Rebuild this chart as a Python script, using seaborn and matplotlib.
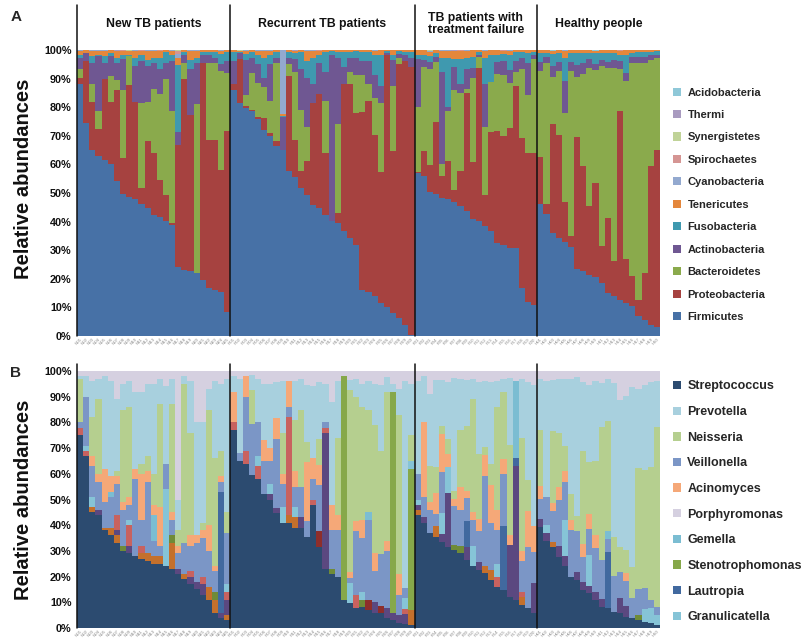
import numpy as np
import pandas as pd
import matplotlib
matplotlib.use("Agg")
import matplotlib.pyplot as plt
import matplotlib.transforms as mtransforms
from matplotlib.patches import Patch
import seaborn as sns

# ---------------- cohorts ----------------
cohort_titles = ["New TB patients", "Recurrent TB patients",
                 "TB patients with\ntreatment failure", "Healthy people"]
cohort_sizes = [25, 30, 20, 20]
cohort_codes = ["N", "R", "F", "H"]

# ---------------- phylum level (% of reads per sample) ----------------
firmicutes = [87.8, 74.4, 65.0, 62.7, 61.5, 60.1, 54.0, 49.6, 48.7, 47.6, 46.2, 44.6, 42.3, 41.4, 40.0,
              38.8, 23.9, 23.0, 22.5, 22.0, 19.6, 16.7, 16.0, 15.2, 8.5,
              86.0, 81.4, 79.6, 78.4, 75.8, 72.0, 69.7, 66.2, 65.0, 57.5, 55.7, 51.6, 49.3, 45.8, 44.6,
              42.3, 40.0, 39.4, 36.5, 34.1, 31.8, 16.1, 15.5, 13.8, 11.4, 10.3, 7.9, 6.2, 3.8, 0.5,
              56.9, 55.7, 50.5, 49.3, 48.1, 47.6, 47.0, 45.2, 43.5, 40.6, 40.0, 38.2, 36.5, 32.4, 31.8,
              30.7, 30.7, 16.7, 12.0, 10.8,
              45.8, 42.3, 35.9, 34.1, 32.4, 30.7, 23.1, 22.5, 21.3, 20.7, 18.4, 14.9, 13.8, 12.6, 11.4,
              10.3, 6.8, 5.6, 3.8, 3.3]
proteobacteria = [2.2, 21.6, 16.4, 9.6, 28.2, 21.3, 32.0, 12.5, 39.1, 33.8, 5.4, 23.4, 21.6, 13.1, 9.3,
                  0.6, 42.3, 66.5, 54.5, 0.0, 75.7, 51.8, 52.5, 42.8, 62.9,
                  2.0, 15.6, 0.9, 0.6, 0.7, 4.0, 1.3, 1.8, 0.0, 33.2, 12.8, 5.9, 11.7, 35.6, 39.7,
                  21.7, 0.0, 3.5, 51.5, 53.9, 46.2, 61.9, 66.5, 56.2, 45.6, 87.7, 56.5, 88.8, 92.2, 93.5,
                  0.1, 8.8, 9.3, 25.1, 7.6, 13.4, 4.0, 12.3, 41.3, 19.8, 53.6, 11.1, 34.4, 39.0, 37.9,
                  41.9, 56.5, 52.4, 51.9, 53.1,
                  16.3, 3.5, 37.9, 35.6, 14.0, 4.0, 46.0, 36.7, 23.9, 32.7, 12.8, 26.2, 12.2, 65.8, 15.2,
                  10.7, 5.8, 16.3, 55.4, 61.7]
bacteroidetes = [3.0, 0, 6.4, 6.1, 0, 9.3, 3.5, 23.9, 9.9, 0, 29.8, 13.4, 22.1, 29.8, 40.2,
                 39.0, 0, 5.5, 0, 59.0, 0, 26.8, 26.8, 34.4, 20.4,
                 0, 0, 3.8, 12.8, 11.8, 11.0, 11.0, 27.3, 0, 4.3, 23.9, 21.5, 12.0, 0, 0,
                 18.0, 0, 31.1, 0, 4.0, 13.0, 13.0, 6.0, 13.0, 24.0, 0, 22.6, 2.0, 0, 0,
                 22.6, 29.1, 33.8, 20.9, 4.3, 17.4, 35.0, 27.3, 1.2, 29.1, 3.9, 23.4, 17.4, 19.9, 21.3,
                 15.7, 4.8, 23.9, 20.1, 32.6,
                 29.9, 49.2, 16.2, 22.3, 30.6, 57.3, 20.9, 31.8, 47.8, 39.6, 62.8, 51.9, 67.0, 14.6, 61.4,
                 74.0, 82.4, 73.1, 36.8, 32.0]
actinobacteria = [4.0, 2.8, 7.5, 19.3, 5.6, 7.0, 5.8, 10.5, 0, 12.6, 14.6, 12.6, 9.0, 8.7, 5.5,
                  17.6, 4.7, 3.0, 16.0, 14.0, 2.7, 2.7, 1.7, 2.6, 4.2,
                  8.0, 2.0, 12.2, 5.2, 6.7, 3.0, 13.0, 1.7, 11.7, 2.0, 4.6, 14.0, 17.0, 6.6, 11.0,
                  10.0, 58.0, 23.0, 6.0, 5.0, 6.0, 5.0, 8.0, 8.0, 6.0, 1.0, 9.0, 1.5, 2.0, 3.0,
                  16.9, 2.4, 2.4, 1.7, 32.0, 1.6, 8.0, 3.2, 7.0, 3.5, 0.5, 15.3, 0, 4.0, 5.0,
                  4.7, 4.0, 4.0, 11.0, 1.5,
                  3, 2, 4, 3, 11, 3, 4, 4, 3, 2, 2, 2, 3, 3, 3,
                  2, 2, 2, 2, 1]
fusobacteria = [1.0, 0, 2.4, 0.3, 2.4, 0.8, 1.7, 1.5, 0.3, 3.0, 2.0, 2.0, 2.0, 4.0, 4.0,
                2.0, 23.3, 1.0, 3.0, 2.0, 1.0, 1.0, 2.0, 3.5, 3.0,
                3.0, 0.5, 2.0, 2.0, 3.0, 7.0, 3.0, 2.0, 0.3, 2.0, 2.0, 6.0, 6.0, 9.0, 2.7,
                7.0, 1.5, 2.0, 5.0, 2.0, 2.5, 3.0, 3.0, 7.0, 11.0, 0.5, 2.0, 1.0, 1.0, 2.0,
                1.5, 2.0, 2.0, 1.5, 5.0, 17.0, 3.0, 8.5, 4.0, 4.0, 1.0, 9.0, 9.7, 2.7, 2.5,
                5.0, 3.0, 2.0, 3.5, 1.0,
                3, 1.5, 4, 3, 8, 3, 4, 3.5, 2, 4, 2.5, 3, 2.5, 2, 6,
                1.5, 2, 2, 1, 1.5]
tenericutes = [1.6, 1.0, 1.8, 1.5, 1.8, 1.2, 2.5, 1.6, 1.5, 2.5, 1.6, 3.4, 2.5, 2.6, 0.7,
               1.6, 2.3, 0.7, 3.4, 2.5, 0.7, 0.7, 0.7, 1.1, 0.7,
               0.8, 0.4, 1.2, 0.8, 1.6, 2.6, 1.6, 0.8, 0.6, 0.8, 0.8, 0.8, 3.4, 2.6, 1.6,
               0.8, 0.4, 0.8, 0.8, 0.8, 0.4, 0.8, 0.8, 1.6, 1.6, 0.4, 1.6, 0.4, 0.8, 0.8,
               1.6, 1.6, 1.6, 1.1, 2.4, 2.4, 2.6, 3.0, 2.4, 2.4, 0.8, 2.4, 1.6, 1.6, 1.1,
               1.6, 0.8, 0.8, 1.1, 0.8,
               1.2, 0.9, 1.2, 1.2, 2.4, 1.2, 1.2, 0.9, 1.2, 0.6, 0.9, 1.2, 0.9, 1.2, 1.8,
               0.9, 0.6, 0.6, 0.6, 0.3]
cyanobacteria = [0.2, 0, 0.2, 0.2, 0.2, 0, 0.2, 0, 0.2, 0.2, 0, 0.2, 0.2, 0, 0,
                 0.2, 1.5, 0, 0.2, 0.2, 0, 0, 0, 0.2, 0,
                 0, 0, 0.2, 0, 0.2, 0.2, 0.2, 0, 22.4, 0, 0, 0, 0.3, 0.2, 0,
                 0, 0, 0, 0, 0, 0, 0, 0, 0.2, 0, 0, 0, 0, 0, 0,
                 0, 0, 0.3, 0, 0.3, 0.3, 0.3, 0, 0.3, 0, 0, 0.3, 0, 0, 0,
                 0.3, 0, 0, 0, 0,
                 0, 0, 0, 0, 0.3, 0, 0, 0, 0, 0, 0, 0, 0, 0, 0,
                 0, 0, 0, 0, 0]
spirochaetes = [0, 0, 0, 0, 0, 0, 0, 0.2, 0, 0, 0.2, 0, 0, 0.2, 0,
                0, 1.0, 0, 0, 0, 0, 0, 0, 0, 0,
                0, 0, 0, 0, 0, 0, 0, 0, 0, 0, 0, 0, 0, 0, 0.2,
                0, 0, 0, 0, 0, 0, 0, 0, 0, 0, 0, 0, 0, 0, 0,
                0, 0, 0, 0, 0, 0, 0, 0.3, 0, 0, 0, 0, 0, 0, 0.3,
                0, 0, 0, 0, 0,
                0, 0, 0, 0, 0, 0, 0, 0, 0, 0, 0, 0, 0, 0.5, 0,
                0, 0, 0, 0, 0]
synergistetes = [0, 0, 0, 0, 0, 0, 0, 0, 0.2, 0, 0, 0, 0, 0, 0,
                 0, 0.3, 0, 0, 0, 0, 0, 0, 0, 0,
                 0, 0.2, 0, 0, 0, 0, 0, 0, 0, 0, 0, 0, 0, 0, 0,
                 0, 0, 0, 0, 0, 0, 0, 0, 0, 0, 0, 0, 0, 0, 0,
                 0, 0, 0.3, 0, 0, 0, 0, 0, 0, 0, 0, 0, 0, 0, 0,
                 0, 0, 0, 0, 0,
                 0, 0, 0, 0, 0, 0, 0, 0, 0, 0, 0, 0, 0, 0, 0,
                 0, 0, 0, 0, 0]
thermi = [0, 0, 0, 0, 0, 0, 0.2, 0, 0, 0, 0, 0, 0, 0, 0,
          0, 0, 0, 0, 0, 0, 0, 0, 0, 0,
          0, 0, 0, 0, 0, 0, 0, 0, 0, 0, 0.2, 0, 0, 0, 0,
          0, 0, 0, 0, 0, 0, 0, 0, 0, 0, 0, 0, 0, 0, 0,
          0, 0, 0, 0, 0, 0, 0.2, 0, 0, 0, 0, 0, 0, 0, 0,
          0, 0, 0, 0, 0,
          0, 0, 0, 0, 0, 0, 0, 0, 0, 0, 0, 0, 0, 0, 0,
          0, 0, 0, 0, 0]
acidobacteria = [0, 0, 0, 0, 0, 0, 0, 0, 0, 0, 0, 0, 0, 0, 0,
                 0, 0, 0, 0, 0, 0, 0, 0, 0, 0,
                 0, 0, 0, 0, 0, 0, 0, 0, 0, 0, 0, 0, 0, 0, 0,
                 0, 0, 0, 0, 0, 0, 0, 0, 0, 0, 0, 0, 0, 0, 0,
                 0, 0, 0, 0, 0, 0, 0, 0, 0, 0, 0, 0, 0, 0, 0,
                 0, 0, 0, 0, 0,
                 0, 0, 0.3, 0, 0, 0, 0, 0, 0, 0.3, 0, 0, 0, 0, 0,
                 0, 0, 0, 0, 0]

# ---------------- genus level (% of reads per sample) ----------------
streptococcus = [75, 67, 45, 44, 38, 36, 33, 30, 29, 28, 27, 26, 25, 25, 24,
                 23, 21, 19, 17, 15, 13, 11, 6, 4, 3,
                 77, 65, 64, 59.5, 58, 52, 50, 44.6, 41, 41, 39, 39, 35.5, 48, 31.6,
                 23, 21, 20, 11, 9.6, 7.7, 8, 7, 6, 5.7, 3.8, 3, 2, 1.5, 1,
                 44, 41, 37, 35.5, 33.6, 31.6, 30.3, 29, 26.5, 24, 22.6, 21.3, 18.7, 16, 14.8,
                 12.2, 10.9, 9, 7.7, 5.7,
                 39.4, 34, 31.6, 27.8, 24, 20, 18.7, 14.8, 13.5, 11, 8.3, 7.7, 6.4, 5.7, 4.4,
                 3.8, 3.1, 2.5, 1.8, 1.2]
prevotella = [1, 8, 14, 8, 36, 37, 28, 10, 10, 30, 28, 28, 35, 10, 30,
              10, 12, 3, 20, 44, 39, 8, 30, 26, 52,
              6, 29, 0, 6, 17, 22, 25, 14, 20, 0, 15, 12, 22, 28, 22,
              15, 40, 22, 0, 4, 7, 9, 11, 16, 26, 6, 3, 10, 80.5, 20,
              36, 18, 28, 34, 18, 22, 44, 20, 18, 8, 28, 26, 32, 10, 5,
              26, 0, 23, 38, 55,
              20, 45, 20, 21, 26, 45, 54, 27, 30, 31, 17, 16, 60, 57, 60,
              70, 31, 33, 33, 18]
neisseria = [17, 0, 15, 29, 0, 0, 2, 36, 35, 0, 4, 6, 12, 40, 0,
             42, 6, 62, 40, 0, 3, 45, 42, 10, 8,
             0, 0, 0, 13, 0, 0, 0, 0, 16, 0, 20, 30, 8, 0, 10,
             0, 0, 30, 0, 71, 48, 44, 40, 50, 40, 58, 0, 62, 0, 10,
             0, 0, 14, 10, 3, 6, 3, 22, 25, 44, 25, 3, 8, 40, 26,
             35, 0, 44, 12, 0,
             22, 0, 28, 21, 10, 10, 6, 36, 20, 29, 52, 43, 15, 10, 9,
             12, 47, 46, 52, 70]
veillonella = [2, 19, 12, 11, 10, 12, 12, 14, 6, 30, 10, 28, 6, 4, 10,
               6, 6, 12, 10, 15, 15, 14, 8, 4, 20,
               0, 3, 21, 20, 13, 13, 9, 27, 9, 4, 8, 12, 6, 8, 18,
               2, 15, 18, 0, 2, 25, 21, 31, 12, 20, 22, 0, 8, 4, 0,
               10, 8, 9, 5, 16, 0, 15, 14, 9, 10, 12, 35, 18, 13, 20,
               0, 0, 12, 24, 12,
               8, 11, 12, 18, 15, 18, 16, 10, 10, 17, 15, 5, 14, 10, 10,
               8, 10, 8, 3, 3]
acinomyces = [0, 0, 4, 3, 13, 6, 3, 3, 3, 4, 18, 4, 4, 15, 0,
              3, 3, 0, 4, 3, 3, 10, 2, 2, 0,
              12, 0, 8, 0, 0, 8, 5, 8, 4, 10, 6, 0, 23, 8, 8,
              0, 10, 6, 0, 2, 4, 7, 0, 7, 0, 4, 0, 8, 0, 0,
              0, 29, 3, 8, 15, 5, 3, 9, 3, 3, 5, 8, 15, 8, 6,
              4, 0, 4, 14, 10,
              5, 0, 3, 5, 4, 4, 0, 5, 6, 5, 0, 0, 0, 0, 3,
              0, 0, 0, 0, 0]
porphyromonas = [2, 2, 4, 3, 2, 4, 11, 5, 4, 8, 8, 5, 5, 3, 6,
                 3, 50, 2, 4, 20, 20, 7, 4, 5, 3,
                 2, 3, 2, 1.5, 3, 5, 5, 4.4, 4, 4, 4, 3, 5.5, 6, 4.4,
                 5, 12, 4, 2, 3.4, 3.3, 5, 4, 5, 5.3, 2.2, 5, 7, 4, 5,
                 4, 2, 9, 3.5, 3.4, 4.4, 2.7, 3, 3.5, 3, 4.4, 3.7, 4.3, 4, 3.2,
                 2.8, 4, 3, 4.3, 5.3,
                 3, 4, 3.4, 3.2, 3, 3, 2.3, 4.2, 5.5, 4, 4.7, 3.3, 4.6, 11.3, 9.6,
                 6.2, 6.9, 5.5, 4.2, 3.8]
gemella = [0, 0, 0, 0, 0, 2, 0, 0, 0, 0, 0, 0, 10, 0, 0,
           0, 0, 0, 0, 0, 0, 0, 0, 0, 0,
           0, 0, 0, 0, 0, 0, 0, 0, 0, 0, 0, 0, 0, 0, 0,
           0, 0, 0, 0, 0, 0, 0, 3, 0, 0, 0, 0, 0, 0, 0,
           0, 0, 0, 0, 0, 0, 0, 0, 0, 0, 0, 0, 0, 0, 0,
           0, 30, 0, 0, 0,
           0, 0, 0, 0, 0, 0, 0, 0, 0, 0, 0, 3, 0, 0, 0,
           0, 0, 0, 0, 0]
stenotrophomonas = [0, 0, 0, 0, 0, 0, 0, 0, 0, 0, 0, 0, 0, 0, 0,
                    0, 0, 0, 0, 0, 0, 0, 0, 0, 0,
                    0, 0, 0, 0, 0, 0, 0, 0, 0, 0, 0, 0, 0, 0, 0,
                    0, 0, 0, 87, 0, 0, 0, 0, 0, 0, 0, 86, 0, 0, 55,
                    0, 0, 0, 0, 0, 0, 0, 0, 0, 0, 0, 0, 0, 0, 0,
                    0, 0, 0, 0, 0,
                    0, 0, 0, 0, 0, 0, 0, 0, 0, 0, 0, 0, 0, 0, 0,
                    0, 0, 0, 0, 0]
lautropia = [0, 0, 0, 0, 0, 0, 0, 0, 0, 0, 0, 0, 0, 0, 0,
             0, 0, 0, 0, 0, 0, 0, 0, 47, 0,
             0, 0, 0, 0, 0, 0, 0, 0, 0, 0, 0, 0, 0, 0, 0,
             0, 0, 0, 0, 0, 0, 0, 0, 0, 0, 0, 0, 0, 0, 0,
             0, 0, 0, 0, 0, 0, 0, 0, 10, 0, 0, 0, 0, 0, 25,
             0, 3, 0, 0, 0,
             0, 0, 0, 0, 0, 0, 0, 0, 0, 0, 0, 22, 0, 0, 0,
             0, 0, 0, 0, 0]
granulicatella = [0, 2, 4, 0, 0, 0, 0, 0, 2, 0, 0, 0, 0, 0, 30,
                  0, 0, 0, 0, 0, 0, 0, 0, 0, 3,
                  0, 0, 0, 0, 4, 0, 4, 0, 6, 0, 4, 0, 0, 0, 0,
                  0, 0, 0, 0, 8, 0, 3, 0, 0, 0, 0, 0, 0, 4, 3,
                  2, 0, 0, 0, 8, 10, 0, 0, 0, 8, 0, 0, 0, 5, 0,
                  0, 0, 0, 0, 0,
                  0, 3, 0, 0, 14, 0, 0, 0, 12, 0, 0, 0, 0, 0, 0,
                  0, 0, 5, 6, 4]
# low-abundance genera outside the top ten
other_1 = [0, 0, 2, 0, 1, 3, 3, 0, 0, 0, 2, 3, 3, 3, 0,
           10, 0, 2, 0, 0, 0, 5, 5, 0, 2,
           0, 0, 0, 0, 0, 0, 0, 0, 0, 3, 4, 0, 0, 0, 0,
           0, 0, 0, 0, 0, 0, 0, 0, 0, 0, 0, 0, 0, 0, 6,
           2, 0, 0, 4, 0, 0, 0, 0, 0, 0, 0, 3, 4, 0, 0,
           0, 0, 3, 0, 0,
           0, 0, 2, 0, 0, 0, 0, 0, 0, 0, 0, 0, 0, 0, 0,
           0, 0, 0, 0, 0]
other_2 = [0, 0, 0, 2, 0, 0, 2, 0, 3, 0, 0, 0, 0, 0, 0,
           0, 2, 0, 3, 3, 4, 0, 0, 2, 6,
           0, 0, 0, 0, 0, 0, 2, 2, 0, 0, 0, 4, 0, 0, 0,
           53, 0, 0, 0, 0, 0, 0, 0, 4, 0, 4, 3, 3, 4, 0,
           2, 2, 0, 0, 3, 21, 0, 0, 5, 0, 3, 0, 0, 0, 0,
           20, 52, 0, 0, 12,
           3, 3, 0, 4, 4, 0, 3, 3, 3, 3, 3, 0, 0, 6, 4,
           0, 0, 0, 0, 0]
other_3 = [3, 2, 0, 0, 0, 0, 6, 0, 8, 0, 3, 0, 0, 0, 0,
           0, 0, 0, 2, 0, 3, 0, 0, 0, 3,
           3, 0, 5, 0, 5, 0, 0, 0, 0, 38, 0, 0, 0, 2, 0,
           2, 0, 0, 0, 0, 5, 0, 0, 0, 0, 0, 0, 0, 2, 0,
           0, 0, 0, 0, 0, 0, 0, 0, 0, 0, 0, 0, 0, 4, 0,
           0, 0, 2, 0, 0,
           0, 0, 0, 0, 0, 0, 0, 0, 0, 0, 0, 0, 0, 0, 0,
           0, 0, 0, 0, 0]
other_4 = [0, 0, 0, 0, 0, 0, 0, 2, 0, 0, 0, 0, 0, 0, 0,
           3, 0, 0, 0, 0, 0, 0, 3, 0, 0,
           0, 0, 0, 0, 0, 0, 0, 0, 0, 0, 0, 0, 0, 0, 0,
           0, 2, 0, 0, 0, 0, 3, 0, 0, 0, 0, 0, 0, 0, 0,
           0, 0, 0, 0, 0, 0, 2, 3, 0, 0, 0, 0, 0, 0, 0,
           0, 0, 0, 0, 0,
           0, 0, 0, 0, 0, 0, 0, 0, 0, 0, 0, 0, 0, 0, 0,
           0, 2, 0, 0, 0]
other_5 = [0, 0, 0, 0, 0, 0, 0, 0, 0, 0, 0, 0, 0, 0, 0,
           0, 0, 0, 0, 0, 0, 0, 0, 0, 0,
           0, 0, 0, 0, 0, 0, 0, 0, 0, 0, 0, 0, 0, 0, 6,
           0, 0, 0, 0, 0, 0, 0, 4, 0, 3, 0, 0, 0, 0, 0,
           0, 0, 0, 0, 0, 0, 0, 0, 0, 0, 0, 0, 0, 0, 0,
           0, 0, 0, 0, 0,
           0, 0, 0, 0, 0, 0, 0, 0, 0, 0, 0, 0, 0, 0, 0,
           0, 0, 0, 0, 0]

# ---------------- tables, stacking order and colours ----------------
phyla = {
    "Acidobacteria": acidobacteria, "Thermi": thermi, "Synergistetes": synergistetes,
    "Spirochaetes": spirochaetes, "Cyanobacteria": cyanobacteria, "Tenericutes": tenericutes,
    "Fusobacteria": fusobacteria, "Actinobacteria": actinobacteria,
    "Bacteroidetes": bacteroidetes, "Proteobacteria": proteobacteria, "Firmicutes": firmicutes,
}
phylum_colors = {
    "Acidobacteria": "#8FC8D8", "Thermi": "#A99BC0", "Synergistetes": "#C0D398",
    "Spirochaetes": "#D59593", "Cyanobacteria": "#93A9CF", "Tenericutes": "#E4873C",
    "Fusobacteria": "#3F99AF", "Actinobacteria": "#6F5792", "Bacteroidetes": "#8AAA4C",
    "Proteobacteria": "#A64240", "Firmicutes": "#4771A6",
}
phylum_legend = list(phyla.keys())

genera = {
    "Porphyromonas": porphyromonas, "Prevotella": prevotella, "Neisseria": neisseria,
    "Acinomyces": acinomyces, "Gemella": gemella, "Veillonella": veillonella,
    "Granulicatella": granulicatella, "Stenotrophomonas": stenotrophomonas,
    "Lautropia": lautropia, "other_5": other_5, "other_4": other_4, "other_3": other_3,
    "other_2": other_2, "other_1": other_1, "Streptococcus": streptococcus,
}
genus_colors = {
    "Streptococcus": "#2C4B70", "Prevotella": "#A8D0DE", "Neisseria": "#B5CF8F",
    "Veillonella": "#7B96C6", "Acinomyces": "#F5A878", "Porphyromonas": "#D5D0E0",
    "Gemella": "#7BBDD2", "Stenotrophomonas": "#86A84A", "Lautropia": "#41699F",
    "Granulicatella": "#86C4D7", "other_1": "#C4702C", "other_2": "#5B4880",
    "other_3": "#C8625F", "other_4": "#6F8B38", "other_5": "#8E2E2B",
}
genus_legend = ["Streptococcus", "Prevotella", "Neisseria", "Veillonella", "Acinomyces",
                "Porphyromonas", "Gemella", "Stenotrophomonas", "Lautropia", "Granulicatella"]

sample_labels = [f"{code}{i:02d}" for code, n in zip(cohort_codes, cohort_sizes)
                 for i in range(1, n + 1)]
n_samples = len(sample_labels)

# ---------------- style ----------------
sns.set_theme(style="white")
plt.rcParams["font.family"] = ["Liberation Sans", "DejaVu Sans"]

W, H = 804, 642
fig = plt.figure(figsize=(W / 100, H / 100), dpi=100)
fig.patch.set_facecolor("white")

ax_left, ax_right = 77, 660
axA = fig.add_axes([ax_left / W, 1 - 336 / H, (ax_right - ax_left) / W, 286 / H])
axB = fig.add_axes([ax_left / W, 1 - 628 / H, (ax_right - ax_left) / W, 257 / H])


def stacked_composition(ax, table, palette, label_y):
    frame = pd.DataFrame(table)
    frame = frame.div(frame.sum(axis=1), axis=0) * 100
    frame["sample"] = np.arange(len(frame))
    long = frame.melt(id_vars="sample", var_name="taxon", value_name="pct")
    # hue order runs from the top of each column to its base
    sns.histplot(data=long, x="sample", weights="pct", hue="taxon",
                 hue_order=list(table.keys()), palette=palette,
                 multiple="stack", discrete=True, shrink=1, alpha=1,
                 linewidth=0, edgecolor="none", antialiased=False,
                 legend=False, ax=ax)
    ax.set_xlim(-0.5, n_samples - 0.5)
    ax.set_ylim(0, 100)
    ax.set_yticks(range(0, 101, 10))
    ax.set_yticklabels([f"{v}%" for v in range(0, 101, 10)],
                       fontsize=7.8, fontweight="bold", color="#111111")
    ax.set_xticks(range(n_samples))
    ax.set_xticklabels(sample_labels, rotation=45, ha="right",
                       rotation_mode="anchor", fontsize=3.2, color="#8a8a8a")
    ax.tick_params(axis="y", length=0, pad=4)
    ax.tick_params(axis="x", length=0, pad=1)
    ax.set_xlabel("")
    ax.set_ylabel("Relative abundances", fontsize=14.5, fontweight="bold", color="#111111")
    ax.yaxis.set_label_coords(-0.0755, label_y)
    for s in ax.spines.values():
        s.set_visible(False)


stacked_composition(axA, phyla, phylum_colors, 0.55)
stacked_composition(axB, genera, genus_colors, 0.5)

# cohort dividers extend into the header band
bounds = np.cumsum([0] + cohort_sizes) - 0.5
for ax, top in ((axA, (336 - 5) / 286), (axB, (628 - 364) / 257)):
    for b in bounds[:-1]:
        ax.axvline(b, ymin=0, ymax=top, color="#111111", lw=1.1, clip_on=False, zorder=5)

# cohort titles above panel A
trans = mtransforms.blended_transform_factory(axA.transData, axA.transAxes)
for title, lo, hi in zip(cohort_titles, bounds[:-1], bounds[1:]):
    axA.text((lo + hi) / 2, (336 - 24) / 286, title, transform=trans, ha="center",
             va="center", fontsize=8.8, fontweight="bold", color="#111111", linespacing=1.1)

# panel letters
fig.text(16 / W, 1 - 17 / H, "A", fontsize=11, fontweight="bold", ha="center", va="center")
fig.text(16 / W, 1 - 373 / H, "B", fontsize=11, fontweight="bold", ha="center", va="center")

# legends
handlesA = [Patch(facecolor=phylum_colors[t], edgecolor="none") for t in phylum_legend]
fig.legend(handlesA, phylum_legend, loc="upper left", bbox_to_anchor=(673 / W, 1 - 87.5 / H),
           frameon=False, prop={"weight": "bold", "size": 8}, handlelength=0.75,
           handleheight=0.75, handletextpad=0.55, labelspacing=1.12, borderpad=0,
           borderaxespad=0)
handlesB = [Patch(facecolor=genus_colors[t], edgecolor="none") for t in genus_legend]
fig.legend(handlesB, genus_legend, loc="upper left", bbox_to_anchor=(673 / W, 1 - 380.5 / H),
           frameon=False, prop={"weight": "bold", "size": 9}, handlelength=0.65,
           handleheight=0.65, handletextpad=0.5, labelspacing=1.09, borderpad=0,
           borderaxespad=0)

fig.savefig("out.png", dpi=100, facecolor="white")
